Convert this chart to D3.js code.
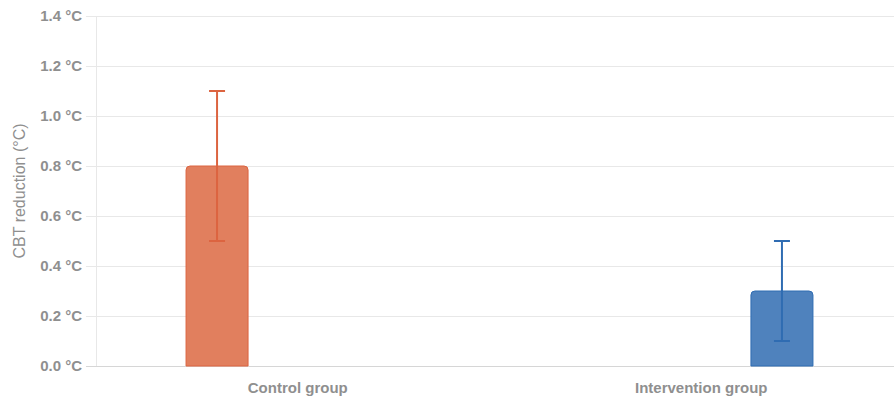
<!DOCTYPE html>
<html>
<head>
<meta charset="utf-8">
<script src="https://cdn.jsdelivr.net/npm/d3@7"></script>
<style>
  html, body { margin: 0; padding: 0; background: #fff; }
  svg { display: block; font-family: "Liberation Sans", Arial, sans-serif; }
</style>
</head>
<body>
<svg id="chart" width="894" height="400"></svg>
<script>
// Mean CBT reduction per group with standard deviation
const categories = ["Control group", "Intervention group"];
const seriesNames = ["Control", "Intervention"];
const means = [0.8, 0.3];
const errors = [0.3, 0.2];
const yTicks = [0, 0.2, 0.4, 0.6, 0.8, 1.0, 1.2, 1.4];
const yTitle = "CBT reduction (°C)";

const fills = ["#e17f5e", "#4f82bd"];
const strokes = ["#dc6440", "#2f6cb2"];

const svg = d3.select("#chart");
const plotLeft = 96, plotRight = 903, plotTop = 16, plotBottom = 366;

const y = d3.scaleLinear().domain([0, 1.4]).range([plotBottom, plotTop]);
const x0 = d3.scaleBand().domain(categories).range([plotLeft, plotRight]).padding(0);
const x1 = d3.scaleBand().domain(seriesNames)
  .range([x0.bandwidth() * 0.1, x0.bandwidth() * 0.9]);
const barW = 62;

// horizontal grid lines
const grid = svg.append("g");
grid.selectAll("line").data(yTicks).join("line")
  .attr("x1", plotLeft - 10).attr("x2", 894)
  .attr("y1", d => y(d) + 0.5).attr("y2", d => y(d) + 0.5)
  .attr("stroke", d => d === 0 ? "#d6d6d6" : "#e8e8e8")
  .attr("stroke-width", 1);

// vertical axis line
svg.append("line")
  .attr("x1", plotLeft + 0.5).attr("x2", plotLeft + 0.5)
  .attr("y1", plotTop).attr("y2", plotBottom)
  .attr("stroke", "#e8e8e8");

// y axis labels
const yAxis = d3.axisLeft(y).tickValues(yTicks)
  .tickFormat(d => d3.format(".1f")(d) + " °C")
  .tickSize(0).tickPadding(14);
const yg = svg.append("g").attr("transform", `translate(${plotLeft},0)`).call(yAxis);
yg.select(".domain").remove();
yg.selectAll("text")
  .attr("fill", "#8f8f8f").attr("font-size", 15).attr("font-weight", "bold")
  .attr("font-family", "'Liberation Sans', Arial, sans-serif");

// y axis title
svg.append("text")
  .attr("transform", `translate(25,${(plotTop + plotBottom) / 2}) rotate(-90)`)
  .attr("text-anchor", "middle")
  .attr("fill", "#8f8f8f").attr("font-size", 16)
  .text(yTitle);

// x axis labels
const xAxis = d3.axisBottom(x0).tickSize(0).tickPadding(16);
const xg = svg.append("g").attr("transform", `translate(0,${plotBottom})`).call(xAxis);
xg.select(".domain").remove();
xg.selectAll("text")
  .attr("fill", "#8f8f8f").attr("font-size", 15).attr("font-weight", "bold")
  .attr("font-family", "'Liberation Sans', Arial, sans-serif");

// bars: each dataset sits in its own slot of its category
const bars = categories.map((c, i) => ({
  cat: c, series: seriesNames[i], value: means[i], err: errors[i],
  fill: fills[i], stroke: strokes[i]
}));

function barPath(xc, w, y0, y1, r) {
  const xl = xc - w / 2, xr = xc + w / 2;
  return `M${xl},${y0}V${y1 + r}Q${xl},${y1} ${xl + r},${y1}H${xr - r}Q${xr},${y1} ${xr},${y1 + r}V${y0}Z`;
}

const cx = d => x0(d.cat) + x1(d.series) + x1.bandwidth() / 2;

svg.append("g").selectAll("path").data(bars).join("path")
  .attr("d", d => barPath(cx(d), barW, y(0), y(d.value), 4))
  .attr("fill", d => d.fill)
  .attr("stroke", d => d.stroke)
  .attr("stroke-width", 1);

// error bars
const eb = svg.append("g").selectAll("g").data(bars).join("g")
  .attr("stroke", d => d.stroke).attr("stroke-width", 2);
eb.append("line")
  .attr("x1", cx).attr("x2", cx)
  .attr("y1", d => y(d.value - d.err)).attr("y2", d => y(d.value + d.err));
eb.append("line")
  .attr("x1", d => cx(d) - 8).attr("x2", d => cx(d) + 8)
  .attr("y1", d => y(d.value + d.err)).attr("y2", d => y(d.value + d.err));
eb.append("line")
  .attr("x1", d => cx(d) - 8).attr("x2", d => cx(d) + 8)
  .attr("y1", d => y(d.value - d.err)).attr("y2", d => y(d.value - d.err));
</script>
</body>
</html>
